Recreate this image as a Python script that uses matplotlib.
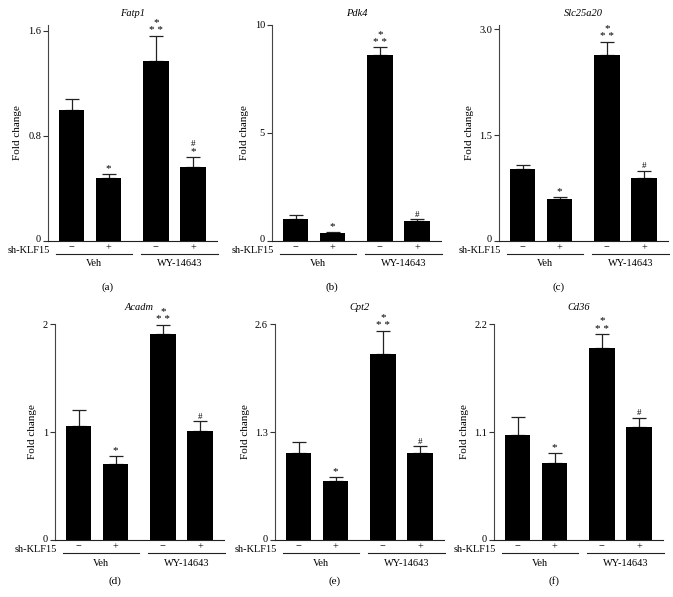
import matplotlib
matplotlib.use("Agg")
import matplotlib.pyplot as plt
from matplotlib.transforms import ScaledTranslation

plt.rcParams['font.family'] = ['Liberation Serif', 'DejaVu Serif']
plt.rcParams['font.size'] = 7.5

# ---------------- data ----------------
genes = ["Fatp1", "Pdk4", "Slc25a20", "Acadm", "Cpt2", "Cd36"]
panel_letters = ["(a)", "(b)", "(c)", "(d)", "(e)", "(f)"]
shklf15_labels = ["−", "+", "−", "+"]
group_labels = ["Veh", "WY-14643"]

fatp1_mean = [1.00, 0.483, 1.371, 0.562]
fatp1_err = [0.084, 0.031, 0.19, 0.079]
pdk4_mean = [1.04, 0.39, 8.61, 0.94]
pdk4_err = [0.18, 0.04, 0.35, 0.06]
slc25a20_mean = [1.013, 0.591, 2.636, 0.899]
slc25a20_err = [0.07, 0.03, 0.185, 0.095]
acadm_mean = [1.054, 0.70, 1.907, 1.005]
acadm_err = [0.146, 0.08, 0.083, 0.095]
cpt2_mean = [1.042, 0.712, 2.238, 1.042]
cpt2_err = [0.138, 0.048, 0.282, 0.085]
cd36_mean = [1.074, 0.782, 1.955, 1.153]
cd36_err = [0.181, 0.105, 0.14, 0.088]

means = [fatp1_mean, pdk4_mean, slc25a20_mean, acadm_mean, cpt2_mean, cd36_mean]
errs = [fatp1_err, pdk4_err, slc25a20_err, acadm_err, cpt2_err, cd36_err]

yticks = [[0, 0.8, 1.6], [0, 5, 10], [0, 1.5, 3.0], [0, 1, 2], [0, 1.3, 2.6], [0, 1.1, 2.2]]
ytick_labels = [["0", "0.8", "1.6"], ["0", "5", "10"], ["0", "1.5", "3.0"],
                ["0", "1", "2"], ["0", "1.3", "2.6"], ["0", "1.1", "2.2"]]
ytops = [1.645, 10, 3.06, 2, 2.6, 2.2]

# significance marks (lines from top to bottom) per bar
sig_fatp1 = [[], ["*"], ["*", "* *"], ["#", "*"]]
sig_other = [[], ["*"], ["*", "* *"], ["#"]]
sigs = [sig_fatp1, sig_other, sig_other, sig_other, sig_other, sig_other]

# ---------------- layout ----------------
W, H = 673, 597
fig = plt.figure(figsize=(W / 100, H / 100), dpi=100)

x_pos = [0, 1, 2.28, 3.28]
lefts_px = [48, 272, 499, 55, 275, 494]
bottoms_px = [241, 241, 241, 540, 540, 540]
ax_w, ax_h = 169, 216
title_pads = [6.5, 6.5, 6.5, 10, 10, 10]
letter_off = [-46, -46, -46, -41, -41, -41]

px = 0.72  # points per pixel

for i in range(6):
    ax = fig.add_axes([lefts_px[i] / W, 1 - bottoms_px[i] / H, ax_w / W, ax_h / H])
    ax.bar(x_pos, means[i], width=0.68, color="black", zorder=2)
    ax.errorbar(x_pos, means[i], yerr=[[0] * 4, errs[i]], fmt="none",
                ecolor="#222222", elinewidth=0.9, capsize=4.8, capthick=0.9, zorder=1)
    ax.set_xlim(-0.635, 3.93)
    ax.set_ylim(0, ytops[i])
    ax.set_yticks(yticks[i])
    ax.set_yticklabels(ytick_labels[i])
    ax.set_xticks(x_pos)
    ax.set_xticklabels(shklf15_labels)
    ax.tick_params(axis="x", length=0, pad=1.5, labelsize=7.5)
    ax.tick_params(axis="y", length=3.5, width=0.8, pad=1.5, labelsize=7.5, color="#333333")
    # lift the "0" label slightly so it clears the sh-KLF15 row
    zero_lbl = ax.get_yticklabels()[0]
    zero_lbl.set_transform(zero_lbl.get_transform() + ScaledTranslation(0, 2 / 100, fig.dpi_scale_trans))
    for s in ["top", "right"]:
        ax.spines[s].set_visible(False)
    ax.spines["left"].set_color("#444444")
    ax.spines["left"].set_linewidth(0.8)
    ax.spines["bottom"].set_color("#222222")
    ax.spines["bottom"].set_linewidth(0.8)
    ax.set_title(genes[i], fontstyle="italic", fontsize=7.5, pad=title_pads[i])
    ax.set_ylabel("Fold change", fontsize=8, labelpad=4)

    # significance marks
    for j in range(4):
        top = means[i][j] + errs[i][j]
        marks = sigs[i][j]
        n = len(marks)
        for k, m in enumerate(marks):
            off = 0.5 + (n - 1 - k) * 5.8
            ax.annotate(m, xy=(x_pos[j], top), xytext=(0, off), textcoords="offset points",
                        ha="center", va="bottom", fontsize=8 if m != "#" else 6.5)

    # sh-KLF15 label
    ax.annotate("sh-KLF15", xy=(0, 0), xycoords="axes fraction", xytext=(1.5, -9.5 * px),
                textcoords="offset points", ha="right", va="center", fontsize=7.5)

    # group underlines and labels
    trans = ax.get_xaxis_transform()
    line_trans = trans + ScaledTranslation(0, -13 / 100, fig.dpi_scale_trans)
    ax.plot([-0.42, 1.63], [0, 0], color="#222222", lw=0.8, transform=line_trans, clip_on=False)
    ax.plot([1.88, 3.96], [0, 0], color="#222222", lw=0.8, transform=line_trans, clip_on=False)
    ax.annotate(group_labels[0], xy=(0.61, 0), xycoords=trans, xytext=(0, -23 * px),
                textcoords="offset points", ha="center", va="center", fontsize=7.5)
    ax.annotate(group_labels[1], xy=(2.92, 0), xycoords=trans, xytext=(0, -23 * px),
                textcoords="offset points", ha="center", va="center", fontsize=7.5)
    # panel letter
    ax.annotate(panel_letters[i], xy=(0, 0), xycoords="axes fraction",
                xytext=(60 * px, letter_off[i] * px), textcoords="offset points",
                ha="center", va="center", fontsize=8)

fig.savefig("out.png", dpi=100)
